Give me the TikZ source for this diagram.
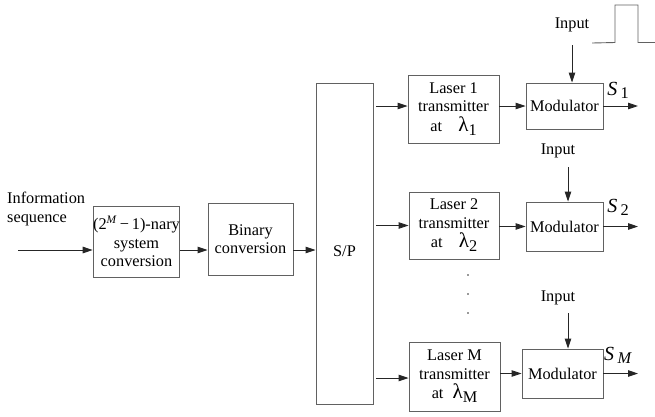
\documentclass[tikz,border=0pt]{standalone}
\usepackage{fontspec}
\setmainfont{Liberation Serif}
\usetikzlibrary{arrows.meta}
\begin{document}
\begin{tikzpicture}[x=1pt,y=-1pt,
  box/.style={draw=black!62,line width=0.9pt,inner sep=0pt,align=center,
    font=\fontsize{16.3}{18.5}\selectfont},
  txt/.style={inner sep=0pt,align=center,font=\fontsize{16.3}{18.5}\selectfont},
  arr/.style={draw=black!85,line width=0.9pt,-{Triangle[length=10pt,width=6.5pt]}}]
\useasboundingbox (0,0) rectangle (655,416);
\newcommand{\mylam}[1]{{\fontsize{21}{18}\selectfont λ}\raisebox{-4pt}{#1}}
% row coordinate
\coordinate (row) at (0,250);
% left part
\node[txt,align=left,anchor=west] (info) at (7,209) {Information\\sequence};
\coordinate (infs) at (18,250);
\node[box,minimum width=81,minimum height=71] (nary) at (136.5,241.5)
  {(2\textsuperscript{\textit{M}}\,−\,1)-nary\\system\\conversion};
\node[box,minimum width=85,minimum height=72] (bin) at (250.5,239)
  {Binary\\conversion};
\node[box,minimum width=57,minimum height=321] (sp) at (344.5,243.5) {};
\node[txt] (sptext) at (344.5,251) {S/P};
\draw[arr] (infs) -- (nary.west |- row);
\draw[arr] (nary.east |- row) -- (bin.west |- row);
\draw[arr] (bin.east |- row) -- (sp.west |- row);
% lasers
\node[box,minimum width=91,minimum height=68] (l1) at (453.5,109)
  {Laser 1\\transmitter\\[1pt]at\quad\mylam{1}};
\node[box,minimum width=90,minimum height=67] (l2) at (454,225.5)
  {Laser 2\\transmitter\\[1pt]at\quad\mylam{2}};
\node[box,minimum width=91,minimum height=69] (lM) at (454.5,376.5)
  {Laser M\\transmitter\\[1pt]at\;\;\mylam{M}};
% modulators
\node[box,minimum width=77,minimum height=46] (m1) at (564.5,106) {Modulator};
\node[box,minimum width=77,minimum height=49] (m2) at (564.5,226.5) {Modulator};
\node[box,minimum width=81,minimum height=49] (mM) at (562.5,373.5) {Modulator};
% S/P to lasers
\draw[arr] ([xshift=3pt]sp.east |- m1) -- (l1.west |- m1);
\draw[arr] ([xshift=3pt]sp.east |- l2) -- (l2.west);
\draw[arr] ([xshift=3pt]sp.east |- 0,378) -- (lM.west |- 0,378);
% lasers to modulators
\draw[arr] (l1.east |- m1) -- (m1.west);
\draw[arr] (l2.east |- m2) -- (m2.west);
\draw[arr] (lM.east |- mM) -- (mM.west);
% outputs
\coordinate (o1) at (638,106);
\coordinate (o2) at (638,226);
\coordinate (oM) at (638,373.5);
\draw[arr] (m1.east) -- (o1);
\draw[arr] (m2.east) -- (o2 |- m2);
\draw[arr] (mM.east) -- (oM |- mM);
% output labels
\node[txt] (s1) at (618,90) {\fontsize{20}{20}\selectfont\textit{S}\,\raisebox{-3pt}{\fontsize{16.3}{18}\selectfont 1}};
\node[txt] (s2) at (618,207) {\fontsize{20}{20}\selectfont\textit{S}\,\raisebox{-3pt}{\fontsize{16.3}{18}\selectfont 2}};
\node[txt] (sM) at (618,355) {\fontsize{20}{20}\selectfont\textit{S}\,\raisebox{-3pt}{\fontsize{16.3}{18}\selectfont\textit{M}}};
% inputs
\node[txt] (in1) at (572,25) {Input};
\node[txt] (in2) at (558,151) {Input};
\node[txt] (inM) at (558,298) {Input};
\coordinate (a1) at (572,45);
\coordinate (a2) at (568,167);
\coordinate (aM) at (568,313);
\draw[arr] (a1) -- (a1 |- m1.north);
\draw[arr] (a2) -- (a2 |- m2.north);
\draw[arr] (aM) -- (aM |- mM.north);
% pulse
\draw[black!62,line width=0.9pt] (592,43) -- (615,42.5) -- (615,5) -- (638,5) -- (638,42.5) -- (655,42.5);
% dots
\foreach \yy/\nm in {275/d1,294/d2,313/d3}
  \node[circle,fill=black!80,inner sep=0pt,minimum size=1.6pt] (\nm) at (468,\yy) {};
\end{tikzpicture}
\end{document}
